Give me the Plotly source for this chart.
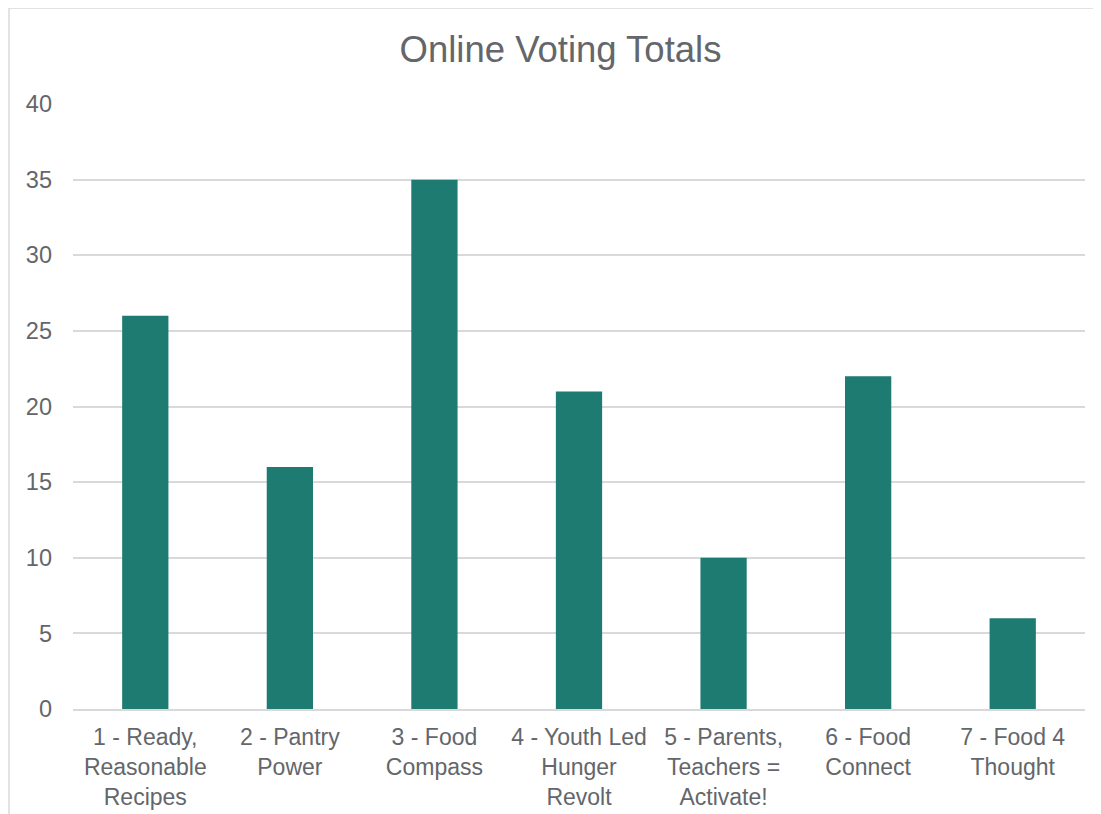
import plotly.graph_objects as go

categories = ["1 - Ready,<br>Reasonable<br>Recipes", "2 - Pantry<br>Power", "3 - Food<br>Compass",
              "4 - Youth Led<br>Hunger<br>Revolt", "5 - Parents,<br>Teachers =<br>Activate!",
              "6 - Food<br>Connect", "7 - Food 4<br>Thought"]
votes = [26, 16, 35, 21, 10, 22, 6]
y_ticks = [0, 5, 10, 15, 20, 25, 30, 35, 40]

TEXT = "#63666A"
GRID = "#D9D9D9"
FONT = "Liberation Sans, Arial"

fig = go.Figure(go.Bar(x=categories, y=votes, marker=dict(color="#1E7B72", line=dict(width=0))))

fig.update_layout(
    width=1101, height=814,
    margin=dict(l=65, r=24, t=96, b=113),
    paper_bgcolor="white", plot_bgcolor="white",
    bargap=0.68,
    title=dict(text="Online Voting Totals", x=0.5018, xanchor="center", y=0.9496, yanchor="middle",
               font=dict(family=FONT, size=36.5, color=TEXT)),
    font=dict(family=FONT, size=24, color=TEXT),
    showlegend=False,
)
fig.update_yaxes(range=[0, 40], tickvals=y_ticks, showgrid=True, gridcolor=GRID, gridwidth=1.5,
                 zeroline=False, showline=False, ticks="", ticklabelstandoff=20,
                 tickfont=dict(family=FONT, size=23.5, color=TEXT))
fig.update_xaxes(showline=True, linecolor=GRID, linewidth=1.5, ticks="", showgrid=False,
                 ticklabelstandoff=7,
                 tickfont=dict(family=FONT, size=23, color=TEXT), tickangle=0)
fig.add_shape(type="rect", xref="paper", yref="paper", x0=-0.0632, x1=1.1, y0=-0.3, y1=1.1587,
              line=dict(color=GRID, width=1.5), fillcolor="rgba(0,0,0,0)", layer="below")

fig.write_html("out.html")
